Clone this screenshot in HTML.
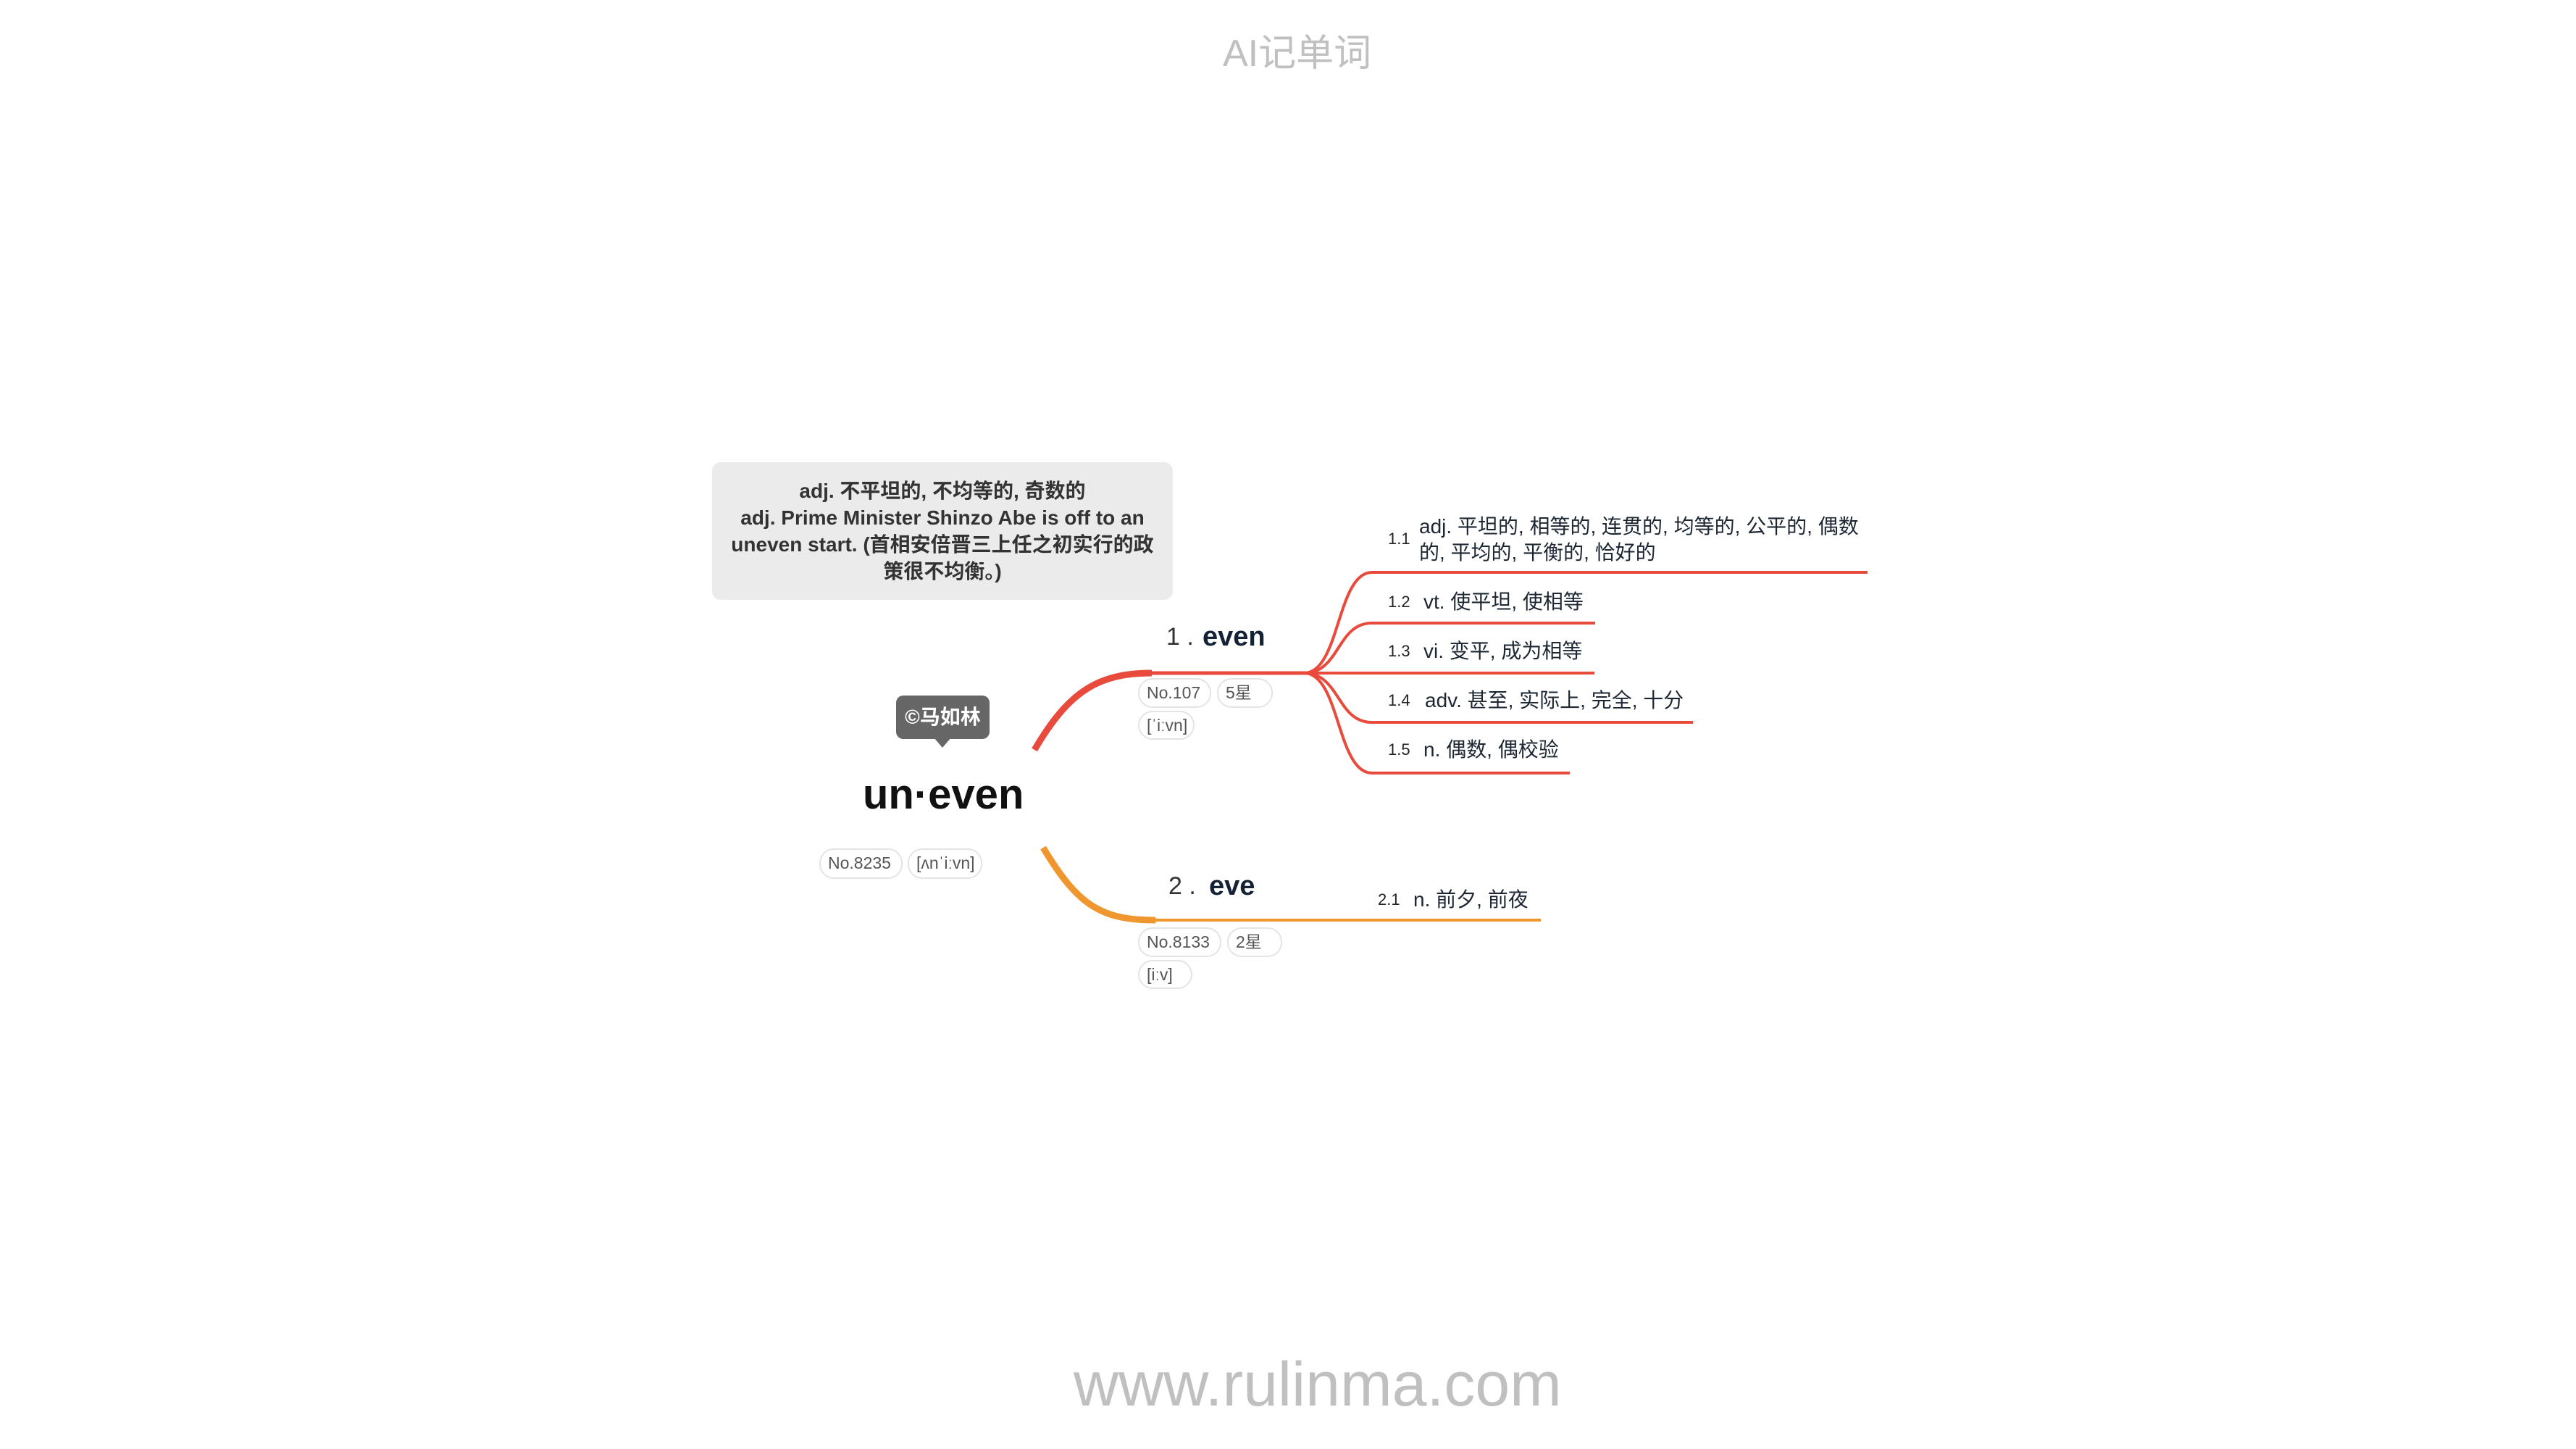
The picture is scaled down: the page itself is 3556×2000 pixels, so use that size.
<!DOCTYPE html>
<html><head><meta charset="utf-8">
<style>
html,body{margin:0;padding:0;background:#fff;}
body{width:3556px;height:2000px;position:relative;overflow:hidden;font-family:"Liberation Sans","Noto Sans CJK SC",sans-serif;}
.a{position:absolute;white-space:nowrap;}
.pill{position:absolute;box-sizing:border-box;border:2px solid #e4e4e4;border-radius:20px;background:#fff;color:#555;font-size:23px;line-height:37px;padding-left:10px;}
.lbl{position:absolute;font-size:22px;color:#222;white-space:nowrap;}
.txt{position:absolute;font-size:28px;color:#1d2733;white-space:nowrap;line-height:36px;}
</style></head><body>
<div class="a" style="left:1688px;top:31px;font-size:52px;color:#c0c0c0;">AI记单词</div>
<div class="a" style="left:1482px;top:1862px;font-size:86px;color:#c0c0c0;">www.rulinma.com</div>

<div class="a" style="left:983px;top:638px;width:636px;height:190px;background:#ebebeb;border-radius:12px;"></div>
<div class="a" style="left:983px;top:659px;width:636px;text-align:center;font-size:28px;line-height:37px;color:#333;font-weight:bold;">adj. 不平坦的, 不均等的, 奇数的<br>adj. Prime Minister Shinzo Abe is off to an<br>uneven start. (首相安倍晋三上任之初实行的政<br>策很不均衡。)</div>

<div class="a" style="left:1237px;top:960px;width:129px;height:60px;background:#666;border-radius:10px;color:#fff;font-weight:bold;font-size:28px;line-height:60px;text-align:center;">©马如林</div>
<div class="a" style="left:1289px;top:1018px;width:0;height:0;border-left:12px solid transparent;border-right:12px solid transparent;border-top:14px solid #666;"></div>

<div class="a" style="left:1191px;top:1063px;font-size:58px;font-weight:bold;color:#111;">un·even</div>
<div class="pill" style="left:1131px;top:1171px;width:115px;height:42px;">No.8235</div>
<div class="pill" style="left:1253px;top:1171px;width:103px;height:42px;">[ʌnˈiːvn]</div>

<svg class="a" style="left:0;top:0" width="3556" height="2000">
<path d="M1428 1035 C1475 955,1515 929,1590 929" stroke="#e84a3c" stroke-width="9" fill="none"/>
<path d="M1585 929 L1803 929" stroke="#e84a3c" stroke-width="5" fill="none"/>
<g stroke="#e84a3c" stroke-width="4" fill="none">
<path d="M1800 929 C1850 929,1845 790,1894 790 L2578 790"/>
<path d="M1800 929 C1850 929,1845 860,1894 860 L2202 860"/>
<path d="M1800 929 L2201 929"/>
<path d="M1800 929 C1850 929,1845 997,1894 997 L2337 997"/>
<path d="M1800 929 C1850 929,1845 1067,1894 1067 L2167 1067"/>
</g>
<path d="M1440 1170 C1488 1250,1520 1270,1595 1270" stroke="#f0962e" stroke-width="9" fill="none"/>
<path d="M1590 1270 L2127 1270" stroke="#f0962e" stroke-width="4" fill="none"/>
</svg>

<div class="a" style="left:1610px;top:860px;font-size:34px;color:#333;">1 .</div>
<div class="a" style="left:1660px;top:858px;font-size:38px;font-weight:bold;color:#142236;">even</div>
<div class="pill" style="left:1571px;top:936px;width:101px;height:41px;">No.107</div>
<div class="pill" style="left:1680px;top:936px;width:77px;height:41px;">5星</div>
<div class="pill" style="left:1571px;top:981px;width:78px;height:40px;">[ˈiːvn]</div>

<div class="a" style="left:1613px;top:1204px;font-size:34px;color:#333;">2 .</div>
<div class="a" style="left:1669px;top:1202px;font-size:38px;font-weight:bold;color:#142236;">eve</div>
<div class="pill" style="left:1571px;top:1280px;width:115px;height:41px;">No.8133</div>
<div class="pill" style="left:1694px;top:1280px;width:76px;height:41px;">2星</div>
<div class="pill" style="left:1571px;top:1325px;width:75px;height:40px;">[iːv]</div>

<div class="lbl" style="left:1916px;top:731px;">1.1</div>
<div class="txt" style="left:1959px;top:709px;">adj. 平坦的, 相等的, 连贯的, 均等的, 公平的, 偶数<br>的, 平均的, 平衡的, 恰好的</div>
<div class="lbl" style="left:1916px;top:818px;">1.2</div>
<div class="txt" style="left:1965px;top:813px;">vt. 使平坦, 使相等</div>
<div class="lbl" style="left:1916px;top:886px;">1.3</div>
<div class="txt" style="left:1965px;top:881px;">vi. 变平, 成为相等</div>
<div class="lbl" style="left:1916px;top:954px;">1.4</div>
<div class="txt" style="left:1967px;top:949px;">adv. 甚至, 实际上, 完全, 十分</div>
<div class="lbl" style="left:1916px;top:1022px;">1.5</div>
<div class="txt" style="left:1965px;top:1017px;">n. 偶数, 偶校验</div>
<div class="lbl" style="left:1902px;top:1229px;">2.1</div>
<div class="txt" style="left:1951px;top:1224px;">n. 前夕, 前夜</div>
</body></html>
